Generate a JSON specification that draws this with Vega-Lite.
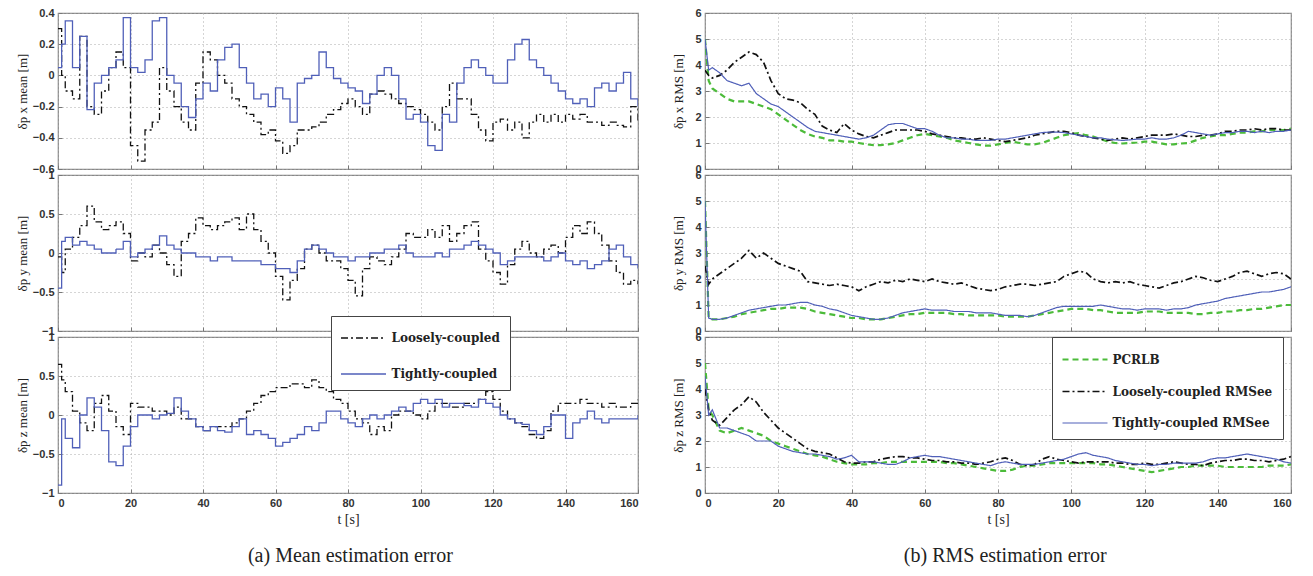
{
"$schema": "https://vega.github.io/schema/vega-lite/v6.json",
"background": "white",
"padding": {"left": 15, "top": 6, "right": 6, "bottom": 4},
"config": {
 "view": {"stroke": "#888", "strokeWidth": 1.2},
 "axis": {"labelFont": "Liberation Sans", "labelFontSize": 11, "labelFontWeight": "bold", "labelColor": "#333", "tickColor": "#777", "tickSize": -4, "labelPadding": 8, "domain": false, "gridColor": "#aaa", "gridDash": [1, 3], "titleFont": "Liberation Serif", "titleFontSize": 13, "titleFontWeight": "normal", "titleColor": "#222"},
 "legend": {"labelFont": "DejaVu Serif", "labelFontWeight": "bold", "labelFontSize": 12, "labelColor": "#222"}
},
"datasets": {
"mx": [
{"t":0,"L":0.3,"T":0.05},{"t":1,"L":0.0,"T":0.2},{"t":2,"L":-0.1,"T":0.35},{"t":4,"L":-0.15,"T":0.05},{"t":6,"L":0.25,"T":0.25},{"t":8,"L":-0.2,"T":-0.22},{"t":10,"L":-0.25,"T":-0.05},{"t":12,"L":-0.1,"T":0.0},{"t":14,"L":0.05,"T":0.05},{"t":16,"L":0.15,"T":0.1},{"t":18,"L":0.05,"T":0.37},{"t":20,"L":-0.45,"T":0.05},{"t":22,"L":-0.55,"T":0.02},{"t":24,"L":-0.35,"T":0.1},{"t":26,"L":-0.3,"T":0.35},{"t":28,"L":0.05,"T":0.37},{"t":30,"L":-0.1,"T":0.0},{"t":32,"L":-0.2,"T":-0.05},{"t":34,"L":-0.3,"T":-0.2},{"t":36,"L":-0.35,"T":-0.27},{"t":38,"L":-0.05,"T":-0.15},{"t":40,"L":0.15,"T":-0.05},{"t":42,"L":0.1,"T":-0.1},{"t":44,"L":0.0,"T":0.1},{"t":46,"L":-0.05,"T":0.18},{"t":48,"L":-0.15,"T":0.2},{"t":50,"L":-0.2,"T":0.05},{"t":52,"L":-0.25,"T":-0.05},{"t":54,"L":-0.3,"T":-0.15},{"t":56,"L":-0.38,"T":-0.12},{"t":58,"L":-0.35,"T":-0.2},{"t":60,"L":-0.42,"T":-0.08},{"t":62,"L":-0.5,"T":-0.15},{"t":64,"L":-0.45,"T":-0.3},{"t":66,"L":-0.35,"T":-0.05},{"t":68,"L":-0.35,"T":-0.02},{"t":70,"L":-0.33,"T":0.0},{"t":72,"L":-0.3,"T":0.15},{"t":74,"L":-0.25,"T":0.05},{"t":76,"L":-0.22,"T":-0.02},{"t":78,"L":-0.18,"T":-0.05},{"t":80,"L":-0.15,"T":-0.08},{"t":82,"L":-0.2,"T":-0.1},{"t":84,"L":-0.25,"T":-0.18},{"t":86,"L":-0.12,"T":-0.12},{"t":88,"L":-0.1,"T":0.0},{"t":90,"L":-0.12,"T":0.05},{"t":92,"L":-0.15,"T":0.0},{"t":94,"L":-0.18,"T":-0.15},{"t":96,"L":-0.2,"T":-0.28},{"t":98,"L":-0.22,"T":-0.25},{"t":100,"L":-0.25,"T":-0.3},{"t":102,"L":-0.3,"T":-0.45},{"t":104,"L":-0.35,"T":-0.48},{"t":106,"L":-0.2,"T":-0.25},{"t":108,"L":-0.05,"T":-0.3},{"t":110,"L":-0.15,"T":-0.05},{"t":112,"L":-0.15,"T":0.05},{"t":114,"L":-0.25,"T":0.1},{"t":116,"L":-0.35,"T":0.05},{"t":118,"L":-0.42,"T":0.0},{"t":120,"L":-0.3,"T":-0.05},{"t":122,"L":-0.28,"T":-0.05},{"t":124,"L":-0.35,"T":0.1},{"t":126,"L":-0.3,"T":0.2},{"t":128,"L":-0.4,"T":0.23},{"t":130,"L":-0.3,"T":0.1},{"t":132,"L":-0.25,"T":0.05},{"t":134,"L":-0.3,"T":0.0},{"t":136,"L":-0.25,"T":-0.05},{"t":138,"L":-0.3,"T":-0.1},{"t":140,"L":-0.25,"T":-0.15},{"t":142,"L":-0.28,"T":-0.18},{"t":144,"L":-0.25,"T":-0.15},{"t":146,"L":-0.3,"T":-0.2},{"t":148,"L":-0.3,"T":-0.08},{"t":150,"L":-0.32,"T":-0.05},{"t":152,"L":-0.3,"T":-0.1},{"t":154,"L":-0.32,"T":-0.05},{"t":156,"L":-0.33,"T":0.02},{"t":158,"L":-0.2,"T":-0.15},{"t":160,"L":-0.3,"T":-0.2}
],
"my": [
{"t":0,"L":-0.05,"T":-0.45},{"t":1,"L":-0.25,"T":0.15},{"t":2,"L":0.05,"T":0.2},{"t":4,"L":0.2,"T":0.1},{"t":6,"L":0.35,"T":0.15},{"t":8,"L":0.6,"T":0.1},{"t":10,"L":0.4,"T":0.05},{"t":12,"L":0.3,"T":0.0},{"t":14,"L":0.35,"T":0.0},{"t":16,"L":0.4,"T":0.05},{"t":18,"L":0.25,"T":0.15},{"t":20,"L":-0.1,"T":-0.05},{"t":22,"L":0.0,"T":0.0},{"t":24,"L":-0.05,"T":0.05},{"t":26,"L":0.1,"T":0.1},{"t":28,"L":0.0,"T":0.22},{"t":30,"L":-0.15,"T":0.1},{"t":32,"L":-0.3,"T":0.05},{"t":34,"L":0.15,"T":0.0},{"t":36,"L":0.25,"T":0.0},{"t":38,"L":0.45,"T":-0.05},{"t":40,"L":0.35,"T":-0.05},{"t":42,"L":0.3,"T":-0.1},{"t":44,"L":0.35,"T":-0.05},{"t":46,"L":0.4,"T":-0.05},{"t":48,"L":0.45,"T":-0.1},{"t":50,"L":0.3,"T":-0.1},{"t":52,"L":0.5,"T":-0.1},{"t":54,"L":0.3,"T":-0.1},{"t":56,"L":0.15,"T":-0.15},{"t":58,"L":0.0,"T":-0.15},{"t":60,"L":-0.3,"T":-0.2},{"t":62,"L":-0.6,"T":-0.2},{"t":64,"L":-0.35,"T":-0.25},{"t":66,"L":-0.2,"T":-0.1},{"t":68,"L":0.05,"T":0.05},{"t":70,"L":0.1,"T":0.1},{"t":72,"L":0.0,"T":0.05},{"t":74,"L":-0.1,"T":0.0},{"t":76,"L":-0.1,"T":-0.05},{"t":78,"L":-0.2,"T":-0.05},{"t":80,"L":-0.35,"T":-0.1},{"t":82,"L":-0.55,"T":-0.05},{"t":84,"L":-0.2,"T":-0.05},{"t":86,"L":-0.05,"T":0.0},{"t":88,"L":-0.1,"T":0.0},{"t":90,"L":-0.15,"T":0.05},{"t":92,"L":-0.05,"T":0.05},{"t":94,"L":0.05,"T":0.1},{"t":96,"L":0.25,"T":0.0},{"t":98,"L":0.2,"T":-0.05},{"t":100,"L":0.2,"T":-0.05},{"t":102,"L":0.3,"T":-0.05},{"t":104,"L":0.2,"T":0.0},{"t":106,"L":0.35,"T":-0.05},{"t":108,"L":0.15,"T":0.05},{"t":110,"L":0.25,"T":0.05},{"t":112,"L":0.35,"T":0.1},{"t":114,"L":0.4,"T":0.15},{"t":116,"L":0.05,"T":0.1},{"t":118,"L":-0.1,"T":0.05},{"t":120,"L":-0.25,"T":0.0},{"t":122,"L":-0.4,"T":-0.15},{"t":124,"L":-0.15,"T":-0.1},{"t":126,"L":0.05,"T":-0.05},{"t":128,"L":0.15,"T":-0.05},{"t":130,"L":0.0,"T":-0.05},{"t":132,"L":-0.05,"T":-0.05},{"t":134,"L":0.05,"T":-0.1},{"t":136,"L":0.1,"T":-0.05},{"t":138,"L":0.0,"T":0.0},{"t":140,"L":0.2,"T":-0.1},{"t":142,"L":0.35,"T":-0.15},{"t":144,"L":0.25,"T":-0.1},{"t":146,"L":0.4,"T":-0.2},{"t":148,"L":0.25,"T":-0.15},{"t":150,"L":0.1,"T":-0.1},{"t":152,"L":-0.1,"T":0.05},{"t":154,"L":-0.25,"T":0.1},{"t":156,"L":-0.4,"T":-0.05},{"t":158,"L":-0.35,"T":-0.15},{"t":160,"L":-0.4,"T":-0.2}
],
"mz": [
{"t":0,"L":0.65,"T":-0.9},{"t":1,"L":0.45,"T":-0.05},{"t":2,"L":0.3,"T":-0.3},{"t":4,"L":0.05,"T":-0.42},{"t":6,"L":-0.1,"T":0.0},{"t":8,"L":-0.2,"T":0.22},{"t":10,"L":0.15,"T":0.1},{"t":12,"L":0.25,"T":-0.2},{"t":14,"L":0.05,"T":-0.6},{"t":16,"L":-0.15,"T":-0.65},{"t":18,"L":-0.25,"T":-0.4},{"t":20,"L":0.15,"T":-0.15},{"t":22,"L":0.1,"T":0.0},{"t":24,"L":0.1,"T":0.0},{"t":26,"L":0.05,"T":-0.05},{"t":28,"L":0.05,"T":0.0},{"t":30,"L":0.0,"T":0.02},{"t":32,"L":0.1,"T":0.22},{"t":34,"L":-0.05,"T":0.05},{"t":36,"L":-0.05,"T":-0.05},{"t":38,"L":-0.15,"T":-0.15},{"t":40,"L":-0.2,"T":-0.2},{"t":42,"L":-0.15,"T":-0.15},{"t":44,"L":-0.15,"T":-0.2},{"t":46,"L":-0.15,"T":-0.22},{"t":48,"L":-0.1,"T":-0.15},{"t":50,"L":-0.05,"T":-0.05},{"t":52,"L":0.05,"T":-0.25},{"t":54,"L":0.15,"T":-0.2},{"t":56,"L":0.25,"T":-0.25},{"t":58,"L":0.3,"T":-0.3},{"t":60,"L":0.35,"T":-0.4},{"t":62,"L":0.35,"T":-0.35},{"t":64,"L":0.4,"T":-0.3},{"t":66,"L":0.4,"T":-0.25},{"t":68,"L":0.35,"T":-0.15},{"t":70,"L":0.45,"T":-0.2},{"t":72,"L":0.35,"T":-0.1},{"t":74,"L":0.3,"T":0.05},{"t":76,"L":0.2,"T":0.05},{"t":78,"L":0.15,"T":-0.05},{"t":80,"L":0.05,"T":-0.1},{"t":82,"L":-0.05,"T":-0.15},{"t":84,"L":-0.1,"T":-0.05},{"t":86,"L":-0.25,"T":0.0},{"t":88,"L":-0.15,"T":-0.05},{"t":90,"L":-0.2,"T":0.0},{"t":92,"L":0.0,"T":0.05},{"t":94,"L":0.05,"T":0.1},{"t":96,"L":0.05,"T":0.05},{"t":98,"L":0.0,"T":0.15},{"t":100,"L":-0.05,"T":0.2},{"t":102,"L":0.05,"T":0.15},{"t":104,"L":0.15,"T":0.2},{"t":106,"L":0.15,"T":0.1},{"t":108,"L":0.1,"T":0.15},{"t":110,"L":0.1,"T":0.15},{"t":112,"L":0.15,"T":0.12},{"t":114,"L":0.15,"T":0.1},{"t":116,"L":0.2,"T":0.2},{"t":118,"L":0.3,"T":0.15},{"t":120,"L":0.2,"T":0.1},{"t":122,"L":0.05,"T":0.0},{"t":124,"L":-0.05,"T":-0.05},{"t":126,"L":-0.1,"T":-0.1},{"t":128,"L":-0.15,"T":-0.12},{"t":130,"L":-0.25,"T":-0.2},{"t":132,"L":-0.3,"T":-0.25},{"t":134,"L":-0.2,"T":-0.15},{"t":136,"L":0.05,"T":0.0},{"t":138,"L":0.15,"T":0.0},{"t":140,"L":0.15,"T":-0.3},{"t":142,"L":0.15,"T":-0.1},{"t":144,"L":0.2,"T":-0.05},{"t":146,"L":0.15,"T":0.05},{"t":148,"L":0.15,"T":-0.05},{"t":150,"L":0.1,"T":-0.1},{"t":152,"L":0.15,"T":-0.05},{"t":154,"L":0.1,"T":-0.05},{"t":156,"L":0.1,"T":-0.05},{"t":158,"L":0.15,"T":-0.05},{"t":160,"L":0.2,"T":0.0}
],
"rx": [
{"t":0,"P":5,"L":3.8,"T":5},{"t":1,"P":3.4,"L":3.6,"T":3.8},{"t":2,"P":3.1,"L":3.5,"T":3.9},{"t":4,"P":2.9,"L":3.6,"T":3.7},{"t":6,"P":2.7,"L":3.8,"T":3.4},{"t":8,"P":2.6,"L":4.1,"T":3.3},{"t":10,"P":2.6,"L":4.3,"T":3.2},{"t":12,"P":2.6,"L":4.5,"T":3.3},{"t":14,"P":2.5,"L":4.4,"T":2.9},{"t":16,"P":2.4,"L":4.1,"T":2.7},{"t":18,"P":2.3,"L":3.4,"T":2.5},{"t":20,"P":2.1,"L":2.9,"T":2.4},{"t":22,"P":1.9,"L":2.7,"T":2.2},{"t":24,"P":1.7,"L":2.65,"T":2.0},{"t":26,"P":1.5,"L":2.55,"T":1.8},{"t":28,"P":1.35,"L":2.3,"T":1.6},{"t":30,"P":1.25,"L":2.1,"T":1.45},{"t":32,"P":1.2,"L":1.65,"T":1.4},{"t":34,"P":1.1,"L":1.5,"T":1.35},{"t":36,"P":1.1,"L":1.4,"T":1.3},{"t":38,"P":1.05,"L":1.75,"T":1.25},{"t":40,"P":1.05,"L":1.5,"T":1.2},{"t":42,"P":1.0,"L":1.35,"T":1.15},{"t":44,"P":0.95,"L":1.25,"T":1.2},{"t":46,"P":0.92,"L":1.2,"T":1.3},{"t":48,"P":0.92,"L":1.3,"T":1.5},{"t":50,"P":0.95,"L":1.4,"T":1.7},{"t":52,"P":1.0,"L":1.5,"T":1.75},{"t":54,"P":1.1,"L":1.5,"T":1.75},{"t":56,"P":1.2,"L":1.5,"T":1.65},{"t":58,"P":1.3,"L":1.5,"T":1.55},{"t":60,"P":1.35,"L":1.45,"T":1.55},{"t":62,"P":1.3,"L":1.35,"T":1.45},{"t":64,"P":1.25,"L":1.3,"T":1.3},{"t":66,"P":1.2,"L":1.25,"T":1.2},{"t":68,"P":1.1,"L":1.2,"T":1.2},{"t":70,"P":1.05,"L":1.2,"T":1.15},{"t":72,"P":1.0,"L":1.15,"T":1.15},{"t":74,"P":0.95,"L":1.15,"T":1.1},{"t":76,"P":0.9,"L":1.2,"T":1.1},{"t":78,"P":0.9,"L":1.15,"T":1.1},{"t":80,"P":0.95,"L":1.1,"T":1.15},{"t":82,"P":1.0,"L":1.05,"T":1.15},{"t":84,"P":1.05,"L":1.1,"T":1.2},{"t":86,"P":1.0,"L":1.15,"T":1.25},{"t":88,"P":0.95,"L":1.2,"T":1.3},{"t":90,"P":0.95,"L":1.3,"T":1.35},{"t":92,"P":1.0,"L":1.35,"T":1.4},{"t":94,"P":1.1,"L":1.4,"T":1.42},{"t":96,"P":1.2,"L":1.45,"T":1.42},{"t":98,"P":1.3,"L":1.45,"T":1.4},{"t":100,"P":1.35,"L":1.4,"T":1.35},{"t":102,"P":1.38,"L":1.3,"T":1.3},{"t":104,"P":1.3,"L":1.25,"T":1.25},{"t":106,"P":1.25,"L":1.2,"T":1.2},{"t":108,"P":1.15,"L":1.15,"T":1.2},{"t":110,"P":1.05,"L":1.1,"T":1.15},{"t":112,"P":1.0,"L":1.15,"T":1.12},{"t":114,"P":0.98,"L":1.2,"T":1.1},{"t":116,"P":1.0,"L":1.15,"T":1.12},{"t":118,"P":1.02,"L":1.2,"T":1.15},{"t":120,"P":1.05,"L":1.25,"T":1.15},{"t":122,"P":1.05,"L":1.3,"T":1.2},{"t":124,"P":1.0,"L":1.3,"T":1.15},{"t":126,"P":0.95,"L":1.3,"T":1.15},{"t":128,"P":0.95,"L":1.35,"T":1.2},{"t":130,"P":0.98,"L":1.3,"T":1.3},{"t":132,"P":1.0,"L":1.25,"T":1.45},{"t":134,"P":1.1,"L":1.25,"T":1.4},{"t":136,"P":1.2,"L":1.3,"T":1.35},{"t":138,"P":1.25,"L":1.3,"T":1.3},{"t":140,"P":1.3,"L":1.35,"T":1.35},{"t":142,"P":1.3,"L":1.45,"T":1.4},{"t":144,"P":1.35,"L":1.45,"T":1.4},{"t":146,"P":1.4,"L":1.5,"T":1.45},{"t":148,"P":1.4,"L":1.5,"T":1.45},{"t":150,"P":1.45,"L":1.55,"T":1.4},{"t":152,"P":1.45,"L":1.5,"T":1.45},{"t":154,"P":1.5,"L":1.55,"T":1.4},{"t":156,"P":1.5,"L":1.55,"T":1.45},{"t":158,"P":1.5,"L":1.5,"T":1.45},{"t":160,"P":1.55,"L":1.5,"T":1.5}
],
"ry": [
{"t":0,"P":5,"L":2.5,"T":5},{"t":1,"P":0.5,"L":1.8,"T":0.5},{"t":2,"P":0.45,"L":2.0,"T":0.45},{"t":4,"P":0.45,"L":2.2,"T":0.45},{"t":6,"P":0.5,"L":2.4,"T":0.5},{"t":8,"P":0.55,"L":2.6,"T":0.6},{"t":10,"P":0.65,"L":2.8,"T":0.7},{"t":12,"P":0.7,"L":3.1,"T":0.8},{"t":14,"P":0.75,"L":2.8,"T":0.85},{"t":16,"P":0.8,"L":3.0,"T":0.9},{"t":18,"P":0.85,"L":2.8,"T":0.95},{"t":20,"P":0.85,"L":2.6,"T":1.0},{"t":22,"P":0.9,"L":2.5,"T":1.0},{"t":24,"P":0.9,"L":2.4,"T":1.05},{"t":26,"P":0.9,"L":2.3,"T":1.1},{"t":28,"P":0.85,"L":1.9,"T":1.1},{"t":30,"P":0.75,"L":1.85,"T":1.0},{"t":32,"P":0.7,"L":1.8,"T":0.95},{"t":34,"P":0.65,"L":1.75,"T":0.85},{"t":36,"P":0.6,"L":1.8,"T":0.8},{"t":38,"P":0.55,"L":1.75,"T":0.7},{"t":40,"P":0.5,"L":1.7,"T":0.6},{"t":42,"P":0.5,"L":1.55,"T":0.55},{"t":44,"P":0.45,"L":1.7,"T":0.5},{"t":46,"P":0.45,"L":1.8,"T":0.45},{"t":48,"P":0.45,"L":1.9,"T":0.45},{"t":50,"P":0.5,"L":1.85,"T":0.5},{"t":52,"P":0.55,"L":1.95,"T":0.6},{"t":54,"P":0.6,"L":1.9,"T":0.7},{"t":56,"P":0.65,"L":2.0,"T":0.75},{"t":58,"P":0.65,"L":1.95,"T":0.8},{"t":60,"P":0.7,"L":1.9,"T":0.85},{"t":62,"P":0.7,"L":2.0,"T":0.8},{"t":64,"P":0.7,"L":1.9,"T":0.8},{"t":66,"P":0.7,"L":1.85,"T":0.8},{"t":68,"P":0.65,"L":1.8,"T":0.75},{"t":70,"P":0.65,"L":1.85,"T":0.75},{"t":72,"P":0.6,"L":1.75,"T":0.75},{"t":74,"P":0.6,"L":1.65,"T":0.7},{"t":76,"P":0.6,"L":1.6,"T":0.7},{"t":78,"P":0.6,"L":1.55,"T":0.7},{"t":80,"P":0.6,"L":1.6,"T":0.65},{"t":82,"P":0.55,"L":1.7,"T":0.6},{"t":84,"P":0.55,"L":1.75,"T":0.6},{"t":86,"P":0.55,"L":1.8,"T":0.6},{"t":88,"P":0.55,"L":1.8,"T":0.55},{"t":90,"P":0.6,"L":1.75,"T":0.6},{"t":92,"P":0.65,"L":1.8,"T":0.7},{"t":94,"P":0.7,"L":1.85,"T":0.8},{"t":96,"P":0.75,"L":1.9,"T":0.9},{"t":98,"P":0.8,"L":2.1,"T":0.95},{"t":100,"P":0.85,"L":2.2,"T":0.95},{"t":102,"P":0.85,"L":2.3,"T":0.95},{"t":104,"P":0.85,"L":2.25,"T":0.95},{"t":106,"P":0.8,"L":2.0,"T":0.95},{"t":108,"P":0.8,"L":1.9,"T":1.0},{"t":110,"P":0.75,"L":1.85,"T":0.95},{"t":112,"P":0.7,"L":1.9,"T":0.9},{"t":114,"P":0.7,"L":1.85,"T":0.85},{"t":116,"P":0.7,"L":1.9,"T":0.85},{"t":118,"P":0.7,"L":1.8,"T":0.8},{"t":120,"P":0.75,"L":1.75,"T":0.85},{"t":122,"P":0.75,"L":1.7,"T":0.85},{"t":124,"P":0.75,"L":1.65,"T":0.85},{"t":126,"P":0.7,"L":1.75,"T":0.8},{"t":128,"P":0.7,"L":1.85,"T":0.85},{"t":130,"P":0.7,"L":1.9,"T":0.85},{"t":132,"P":0.7,"L":2.0,"T":0.9},{"t":134,"P":0.65,"L":2.1,"T":1.0},{"t":136,"P":0.65,"L":2.05,"T":1.05},{"t":138,"P":0.7,"L":1.95,"T":1.1},{"t":140,"P":0.7,"L":1.9,"T":1.15},{"t":142,"P":0.75,"L":2.0,"T":1.25},{"t":144,"P":0.75,"L":2.1,"T":1.3},{"t":146,"P":0.8,"L":2.25,"T":1.35},{"t":148,"P":0.8,"L":2.3,"T":1.4},{"t":150,"P":0.85,"L":2.2,"T":1.45},{"t":152,"P":0.85,"L":2.1,"T":1.5},{"t":154,"P":0.9,"L":2.2,"T":1.5},{"t":156,"P":0.95,"L":2.25,"T":1.55},{"t":158,"P":1.0,"L":2.2,"T":1.6},{"t":160,"P":1.0,"L":2.0,"T":1.7}
],
"rz": [
{"t":0,"P":5,"L":4.0,"T":4.5},{"t":1,"P":3.2,"L":3.2,"T":3.0},{"t":2,"P":3.0,"L":2.8,"T":3.2},{"t":4,"P":2.4,"L":2.6,"T":2.5},{"t":6,"P":2.3,"L":2.9,"T":2.5},{"t":8,"P":2.4,"L":3.2,"T":2.4},{"t":10,"P":2.5,"L":3.4,"T":2.3},{"t":12,"P":2.4,"L":3.7,"T":2.2},{"t":14,"P":2.3,"L":3.5,"T":2.0},{"t":16,"P":2.2,"L":3.1,"T":2.0},{"t":18,"P":2.0,"L":2.8,"T":2.0},{"t":20,"P":1.9,"L":2.5,"T":1.8},{"t":22,"P":1.8,"L":2.3,"T":1.7},{"t":24,"P":1.7,"L":2.1,"T":1.6},{"t":26,"P":1.6,"L":1.9,"T":1.55},{"t":28,"P":1.5,"L":1.7,"T":1.5},{"t":30,"P":1.45,"L":1.6,"T":1.5},{"t":32,"P":1.4,"L":1.55,"T":1.45},{"t":34,"P":1.3,"L":1.5,"T":1.4},{"t":36,"P":1.2,"L":1.35,"T":1.3},{"t":38,"P":1.15,"L":1.2,"T":1.35},{"t":40,"P":1.1,"L":1.15,"T":1.45},{"t":42,"P":1.1,"L":1.15,"T":1.2},{"t":44,"P":1.1,"L":1.2,"T":1.2},{"t":46,"P":1.15,"L":1.2,"T":1.2},{"t":48,"P":1.15,"L":1.3,"T":1.15},{"t":50,"P":1.2,"L":1.35,"T":1.1},{"t":52,"P":1.2,"L":1.4,"T":1.1},{"t":54,"P":1.2,"L":1.4,"T":1.2},{"t":56,"P":1.2,"L":1.35,"T":1.35},{"t":58,"P":1.2,"L":1.35,"T":1.4},{"t":60,"P":1.2,"L":1.3,"T":1.45},{"t":62,"P":1.2,"L":1.25,"T":1.4},{"t":64,"P":1.2,"L":1.25,"T":1.4},{"t":66,"P":1.15,"L":1.2,"T":1.35},{"t":68,"P":1.15,"L":1.2,"T":1.3},{"t":70,"P":1.1,"L":1.15,"T":1.25},{"t":72,"P":1.05,"L":1.15,"T":1.2},{"t":74,"P":1.0,"L":1.1,"T":1.15},{"t":76,"P":0.95,"L":1.15,"T":1.1},{"t":78,"P":0.9,"L":1.2,"T":1.05},{"t":80,"P":0.85,"L":1.3,"T":1.15},{"t":82,"P":0.85,"L":1.35,"T":1.2},{"t":84,"P":0.9,"L":1.25,"T":1.15},{"t":86,"P":1.0,"L":1.1,"T":1.1},{"t":88,"P":1.05,"L":1.05,"T":1.1},{"t":90,"P":1.05,"L":1.1,"T":1.1},{"t":92,"P":1.1,"L":1.3,"T":1.15},{"t":94,"P":1.15,"L":1.4,"T":1.2},{"t":96,"P":1.15,"L":1.3,"T":1.25},{"t":98,"P":1.15,"L":1.25,"T":1.3},{"t":100,"P":1.15,"L":1.2,"T":1.4},{"t":102,"P":1.15,"L":1.15,"T":1.5},{"t":104,"P":1.15,"L":1.2,"T":1.55},{"t":106,"P":1.15,"L":1.2,"T":1.45},{"t":108,"P":1.1,"L":1.2,"T":1.4},{"t":110,"P":1.1,"L":1.2,"T":1.35},{"t":112,"P":1.05,"L":1.15,"T":1.25},{"t":114,"P":1.0,"L":1.15,"T":1.2},{"t":116,"P":0.95,"L":1.1,"T":1.15},{"t":118,"P":0.9,"L":1.1,"T":1.1},{"t":120,"P":0.85,"L":1.15,"T":1.1},{"t":122,"P":0.8,"L":1.1,"T":1.05},{"t":124,"P":0.85,"L":1.1,"T":1.1},{"t":126,"P":0.9,"L":1.15,"T":1.1},{"t":128,"P":0.95,"L":1.2,"T":1.15},{"t":130,"P":1.0,"L":1.15,"T":1.15},{"t":132,"P":1.0,"L":1.1,"T":1.15},{"t":134,"P":1.05,"L":1.1,"T":1.15},{"t":136,"P":1.05,"L":1.05,"T":1.2},{"t":138,"P":1.05,"L":1.15,"T":1.3},{"t":140,"P":1.05,"L":1.2,"T":1.35},{"t":142,"P":1.0,"L":1.25,"T":1.35},{"t":144,"P":1.0,"L":1.25,"T":1.4},{"t":146,"P":1.0,"L":1.3,"T":1.45},{"t":148,"P":1.0,"L":1.3,"T":1.5},{"t":150,"P":1.0,"L":1.25,"T":1.45},{"t":152,"P":1.0,"L":1.25,"T":1.4},{"t":154,"P":1.05,"L":1.2,"T":1.35},{"t":156,"P":1.05,"L":1.25,"T":1.3},{"t":158,"P":1.05,"L":1.3,"T":1.2},{"t":160,"P":1.1,"L":1.4,"T":1.15}
]
},
"spacing": 32,
"resolve": {"scale": {"color": "independent", "strokeDash": "independent", "strokeWidth": "independent"}},
"hconcat": [
{
 "spacing": 6,
 "bounds": "flush",
 "resolve": {"scale": {"x": "independent", "y": "independent", "color": "independent", "strokeDash": "independent"}},
 "title": {"text": "(a)  Mean estimation error", "orient": "bottom", "anchor": "middle", "font": "Liberation Serif", "fontSize": 20, "fontWeight": "normal", "color": "#222", "offset": 19, "dx": 23},
 "vconcat": [
  {
   "width": 580, "height": 156,
   "data": {"name": "mx"},
   "transform": [{"fold": ["L", "T"], "as": ["series", "v"]}],
   "mark": {"type": "line", "interpolate": "step-after", "strokeWidth": 1.3, "clip": true},
   "encoding": {
    "x": {"field": "t", "type": "quantitative", "scale": {"domain": [0, 160], "nice": false}, "axis": {"values": [0,20,40,60,80,100,120,140,160], "labels": false, "title": null}},
    "y": {"field": "v", "type": "quantitative", "scale": {"domain": [-0.6, 0.4], "nice": false}, "axis": {"values": [-0.6,-0.4,-0.2,0,0.2,0.4], "format": "~g", "title": "δp x mean [m]", "titlePadding": 3}},
    "color": {"field": "series", "type": "nominal", "scale": {"domain": ["L", "T"], "range": ["#111111", "#4f5fb8"]}, "legend": null},
    "strokeDash": {"field": "series", "type": "nominal", "scale": {"domain": ["L", "T"], "range": [[7,3,2,3], [1,0]]}, "legend": null}
   }
  },
  {
   "width": 580, "height": 156,
   "data": {"name": "my"},
   "transform": [{"fold": ["L", "T"], "as": ["series", "v"]}],
   "mark": {"type": "line", "interpolate": "step-after", "strokeWidth": 1.3, "clip": true},
   "encoding": {
    "x": {"field": "t", "type": "quantitative", "scale": {"domain": [0, 160], "nice": false}, "axis": {"values": [0,20,40,60,80,100,120,140,160], "labels": false, "title": null}},
    "y": {"field": "v", "type": "quantitative", "scale": {"domain": [-1, 1], "nice": false}, "axis": {"values": [-1,-0.5,0,0.5,1], "format": "~g", "title": "δp y mean [m]", "titlePadding": 3}},
    "color": {"field": "series", "type": "nominal", "scale": {"domain": ["L", "T"], "range": ["#111111", "#4f5fb8"]}, "legend": null},
    "strokeDash": {"field": "series", "type": "nominal", "scale": {"domain": ["L", "T"], "range": [[7,3,2,3], [1,0]]}, "legend": null}
   }
  },
  {
   "width": 580, "height": 156,
   "data": {"name": "mz"},
   "transform": [{"fold": ["L", "T"], "as": ["series", "v"]}],
   "mark": {"type": "line", "interpolate": "step-after", "strokeWidth": 1.3, "clip": true},
   "encoding": {
    "x": {"field": "t", "type": "quantitative", "scale": {"domain": [0, 160], "nice": false}, "axis": {"values": [0,20,40,60,80,100,120,140,160], "title": "t [s]", "titleFontSize": 14, "titlePadding": 4}},
    "y": {"field": "v", "type": "quantitative", "scale": {"domain": [-1, 1], "nice": false}, "axis": {"values": [-1,-0.5,0,0.5,1], "format": "~g", "title": "δp z mean [m]", "titlePadding": 3}},
    "color": {"field": "series", "type": "nominal", "scale": {"domain": ["L", "T"], "range": ["#111111", "#4f5fb8"]},
      "legend": {"title": null, "orient": "none", "legendX": 273, "legendY": -21, "direction": "vertical", "symbolType": "M-2,0H2", "symbolSize": 506, "symbolOffset": 10.5, "symbolStrokeWidth": 1.4, "labelExpr": "datum.label == 'L' ? 'Loosely-coupled' : 'Tightly-coupled'", "padding": 10, "rowPadding": 18, "strokeColor": "#444", "fillColor": "white", "labelOffset": 16, "zindex": 1}},
    "strokeDash": {"field": "series", "type": "nominal", "scale": {"domain": ["L", "T"], "range": [[7,3,2,3], [1,0]]},
      "legend": {"title": null, "orient": "none", "legendX": 273, "legendY": -21, "direction": "vertical", "symbolType": "M-2,0H2", "symbolSize": 506, "symbolOffset": 10.5, "symbolStrokeWidth": 1.4, "labelExpr": "datum.label == 'L' ? 'Loosely-coupled' : 'Tightly-coupled'", "padding": 10, "rowPadding": 18, "strokeColor": "#444", "fillColor": "white", "labelOffset": 16, "zindex": 1}}
   }
  }
 ]
},
{
 "spacing": 6,
 "bounds": "flush",
 "resolve": {"scale": {"x": "independent", "y": "independent", "color": "independent", "strokeDash": "independent", "strokeWidth": "independent"}},
 "title": {"text": "(b)  RMS estimation error", "orient": "bottom", "anchor": "middle", "font": "Liberation Serif", "fontSize": 20, "fontWeight": "normal", "color": "#222", "offset": 19, "dx": 23},
 "vconcat": [
  {
   "width": 586, "height": 156,
   "data": {"name": "rx"},
   "transform": [{"fold": ["P", "L", "T"], "as": ["series", "v"]}],
   "mark": {"type": "line", "clip": true},
   "encoding": {
    "x": {"field": "t", "type": "quantitative", "scale": {"domain": [0, 160], "nice": false}, "axis": {"values": [0,20,40,60,80,100,120,140,160], "labels": false, "title": null}},
    "y": {"field": "v", "type": "quantitative", "scale": {"domain": [0, 6], "nice": false}, "axis": {"values": [0,1,2,3,4,5,6], "title": "δp x RMS [m]", "titlePadding": 9}},
    "color": {"field": "series", "type": "nominal", "scale": {"domain": ["P", "L", "T"], "range": ["#4cbb3a", "#111111", "#4f5fb8"]}, "legend": null},
    "strokeDash": {"field": "series", "type": "nominal", "scale": {"domain": ["P", "L", "T"], "range": [[6,4], [7,3,2,3], [1,0]]}, "legend": null},
    "strokeWidth": {"field": "series", "type": "nominal", "scale": {"domain": ["P", "L", "T"], "range": [2.2, 1.2, 1.5]}, "legend": null}
   }
  },
  {
   "width": 586, "height": 156,
   "data": {"name": "ry"},
   "transform": [{"fold": ["P", "L", "T"], "as": ["series", "v"]}],
   "mark": {"type": "line", "clip": true},
   "encoding": {
    "x": {"field": "t", "type": "quantitative", "scale": {"domain": [0, 160], "nice": false}, "axis": {"values": [0,20,40,60,80,100,120,140,160], "labels": false, "title": null}},
    "y": {"field": "v", "type": "quantitative", "scale": {"domain": [0, 6], "nice": false}, "axis": {"values": [0,1,2,3,4,5,6], "title": "δp y RMS [m]", "titlePadding": 9}},
    "color": {"field": "series", "type": "nominal", "scale": {"domain": ["P", "L", "T"], "range": ["#4cbb3a", "#111111", "#4f5fb8"]}, "legend": null},
    "strokeDash": {"field": "series", "type": "nominal", "scale": {"domain": ["P", "L", "T"], "range": [[6,4], [7,3,2,3], [1,0]]}, "legend": null},
    "strokeWidth": {"field": "series", "type": "nominal", "scale": {"domain": ["P", "L", "T"], "range": [2.2, 1.2, 1.5]}, "legend": null}
   }
  },
  {
   "width": 586, "height": 156,
   "data": {"name": "rz"},
   "transform": [{"fold": ["P", "L", "T"], "as": ["series", "v"]}],
   "mark": {"type": "line", "clip": true},
   "encoding": {
    "x": {"field": "t", "type": "quantitative", "scale": {"domain": [0, 160], "nice": false}, "axis": {"values": [0,20,40,60,80,100,120,140,160], "title": "t [s]", "titleFontSize": 14, "titlePadding": 4}},
    "y": {"field": "v", "type": "quantitative", "scale": {"domain": [0, 6], "nice": false}, "axis": {"values": [0,1,2,3,4,5,6], "title": "δp z RMS [m]", "titlePadding": 9}},
    "color": {"field": "series", "type": "nominal", "scale": {"domain": ["P", "L", "T"], "range": ["#4cbb3a", "#111111", "#4f5fb8"]},
      "legend": {"title": null, "orient": "none", "legendX": 347, "legendY": 0, "direction": "vertical", "symbolType": "M-2,0H2", "symbolSize": 506, "symbolOffset": 10.5, "labelExpr": "datum.label == 'P' ? 'PCRLB' : datum.label == 'L' ? 'Loosely-coupled RMSee' : 'Tightly-coupled RMSee'", "padding": 10, "rowPadding": 13, "strokeColor": "#444", "fillColor": "white", "labelOffset": 15, "zindex": 1}},
    "strokeDash": {"field": "series", "type": "nominal", "scale": {"domain": ["P", "L", "T"], "range": [[6,4], [7,3,2,3], [1,0]]},
      "legend": {"title": null, "orient": "none", "legendX": 347, "legendY": 0, "direction": "vertical", "symbolType": "M-2,0H2", "symbolSize": 506, "symbolOffset": 10.5, "labelExpr": "datum.label == 'P' ? 'PCRLB' : datum.label == 'L' ? 'Loosely-coupled RMSee' : 'Tightly-coupled RMSee'", "padding": 10, "rowPadding": 13, "strokeColor": "#444", "fillColor": "white", "labelOffset": 15, "zindex": 1}},
    "strokeWidth": {"field": "series", "type": "nominal", "scale": {"domain": ["P", "L", "T"], "range": [2.2, 1.2, 1.5]},
      "legend": {"title": null, "orient": "none", "legendX": 347, "legendY": 0, "direction": "vertical", "symbolType": "M-2,0H2", "symbolSize": 506, "symbolOffset": 10.5, "labelExpr": "datum.label == 'P' ? 'PCRLB' : datum.label == 'L' ? 'Loosely-coupled RMSee' : 'Tightly-coupled RMSee'", "padding": 10, "rowPadding": 13, "strokeColor": "#444", "fillColor": "white", "labelOffset": 15, "zindex": 1}}
   }
  }
 ]
}
]
}
